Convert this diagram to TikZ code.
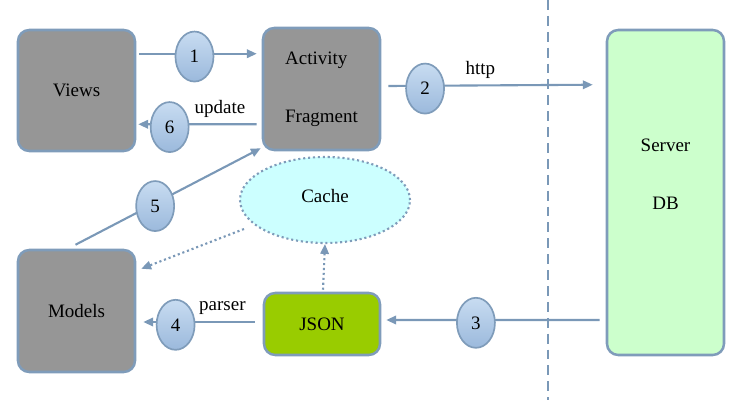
\documentclass[tikz,border=0pt]{standalone}
\usepackage{fontspec}
\setmainfont{Liberation Serif}
\usetikzlibrary{positioning}
\usetikzlibrary{calc}
\usetikzlibrary{shapes.geometric}
\usetikzlibrary{arrows.meta}

\definecolor{boxgray}{HTML}{969696}
\definecolor{edge}{HTML}{7F9CBA}
\definecolor{link}{HTML}{7A98B7}
\definecolor{servergreen}{HTML}{CCFFCC}
\definecolor{jsongreen}{HTML}{99CC00}
\definecolor{cachecyan}{HTML}{CCFFFF}
\definecolor{numtop}{HTML}{C8DCF1}
\definecolor{numbot}{HTML}{9BB9DC}

\begin{document}
\begin{tikzpicture}[x=0.025cm, y=-0.025cm,
    font=\rmfamily\fontsize{13.5}{16}\selectfont,
    box/.style={draw=edge, line width=1.8pt, rounded corners=8pt, fill=boxgray},
    flow/.style={draw=link, line width=1.5pt, -{Triangle[length=7pt,width=6pt]}},
    hint/.style={flow, dotted},
    num/.style={ellipse, draw=edge, line width=1.2pt, top color=numtop,
        bottom color=numbot, minimum width=0.95cm, minimum height=1.25cm,
        inner sep=0pt, yshift=-2pt}]
    \newcommand\unitpx{0.025cm}

    \useasboundingbox (0, 0) rectangle (744, 400);

    % boxes
    \node[box, minimum width=117*\unitpx, minimum height=121*\unitpx]
        (views) at (76.5, 90.5) {Views};
    \node[box, minimum width=117*\unitpx, minimum height=122*\unitpx, align=left]
        (act) at (321.5, 89) {Activity\\[25pt]Fragment};
    \node[box, minimum width=117*\unitpx, minimum height=122*\unitpx]
        (models) at (76.5, 311) {Models};
    \node[box, fill=jsongreen, minimum width=116*\unitpx, minimum height=62*\unitpx]
        (json) at (322, 324) {JSON};
    \node[box, fill=servergreen, minimum width=117*\unitpx, minimum height=325*\unitpx]
        (server) at (665.5, 192.5) {};
    \node[align=center] (server-txt) at (665.5, 174) {Server\\[25pt]DB};

    \node[ellipse, draw=edge, line width=1.5pt, dotted, fill=cachecyan,
        minimum width=170*\unitpx, minimum height=86*\unitpx]
        (cache) at (325, 200) {};
    \node (cache-txt) at (325, 196) {Cache};

    % client / server border
    \coordinate (sep-top) at (548, 0);
    \coordinate (sep-bottom) at (548, 400);
    \draw[link, line width=1.5pt, dash pattern=on 7pt off 4.3pt]
        (sep-top) -- (sep-bottom);

    % flows
    \draw[flow] ($(views.north east)+(3, 25)$) --
        node[num, pos=.47] (n1) {1}
        ($(act.north west)+(-5, 27)$);

    \draw[flow] ($(act.south west)+(-5, -27)$) --
        node[num, pos=.735] (n6) {6}
        node[pos=.31, above=1pt] (upd) {update}
        ($(views.south east)+(2, -28)$);

    \draw[flow] ($(act.east)+(7, -3)$) --
        node[num, pos=.18] (n2) {2}
        node[pos=.45, above=1pt] (http) {http}
        ($(server.north west)+(-13, 56)$);

    \draw[flow] ($(server.west)+(-6, 127.5)$) --
        node[num, pos=.58] (n3) {3}
        ($(json.east)+(5, -4)$);

    \draw[flow] ($(json.west)+(-8, -2)$) --
        node[num, pos=.71] (n4) {4}
        node[pos=.29, above=1pt] (pars) {parser}
        ($(models.east)+(7, 11)$);

    \draw[flow] ($(models.north)+(-1, -4)$) --
        node[num, pos=.43] (n5) {5}
        ($(act.south west)+(-1, -3)$);

    \draw[hint] ($(cache.center)+(-81, 29)$) -- ($(models.north east)+(5, 20)$);
    \draw[hint] ($(json.north)+(1, -2)$) -- (cache.south);
\end{tikzpicture}
\end{document}
